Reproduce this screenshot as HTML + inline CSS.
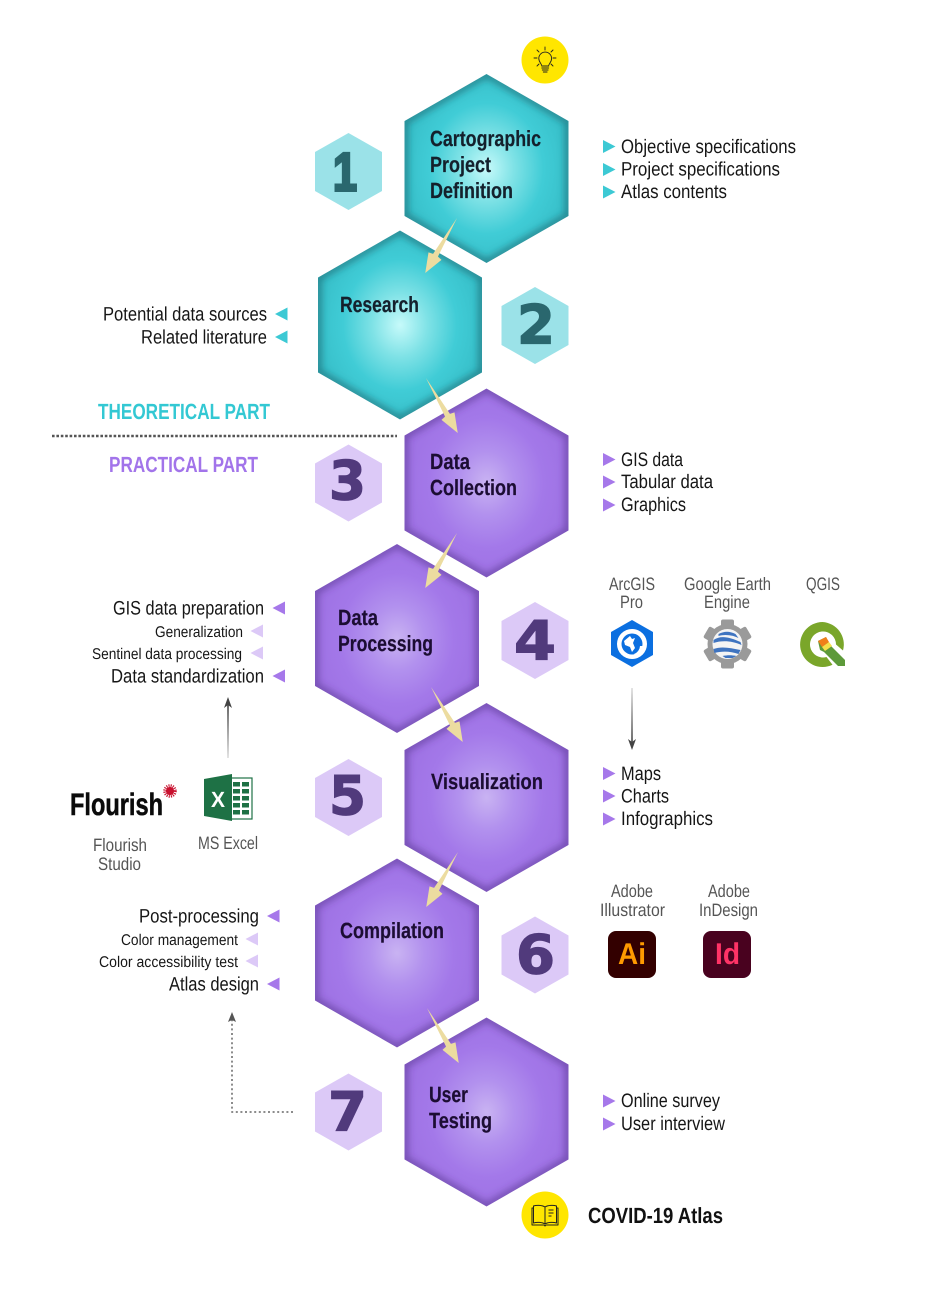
<!DOCTYPE html>
<html lang="en">
<head>
<meta charset="utf-8">
<title>Atlas workflow</title>
<style>
html,body{margin:0;padding:0;background:#fff;width:931px;height:1316px;overflow:hidden}
svg{display:block}
text{font-family:"Liberation Sans Narrow","Liberation Sans",sans-serif;text-rendering:geometricPrecision}
.t{font-weight:700;font-size:22px;fill:#14202c;stroke:#14202c;stroke-width:.2}
.tp{font-weight:700;font-size:22px;fill:#1c0d33;stroke:#1c0d33;stroke-width:.2}
.l{font-size:19.5px;fill:#161616}
.s{font-size:15.5px;fill:#161616}
.g{font-size:18px;fill:#555}
.d{font-family:"DejaVu Sans",sans-serif;font-weight:700;font-size:54px;stroke-width:1.3;stroke-linejoin:miter}
.d1{fill:#2a676e;stroke:#2a676e}
.d2{fill:#513a7c;stroke:#513a7c}
</style>
</head>
<body>
<svg xmlns="http://www.w3.org/2000/svg" width="931" height="1316" viewBox="0 0 931 1316">
<defs>
<radialGradient id="tg" cx=".5" cy=".5" r=".56">
<stop offset="0" stop-color="#c6fafa"/><stop offset=".3" stop-color="#7fe2e6"/><stop offset=".62" stop-color="#40ccd6"/><stop offset="1" stop-color="#35bcc6"/>
</radialGradient>
<radialGradient id="pg" cx=".5" cy=".5" r=".56">
<stop offset="0" stop-color="#c9b3f2"/><stop offset=".3" stop-color="#b291ee"/><stop offset=".62" stop-color="#a378e9"/><stop offset="1" stop-color="#9d70e2"/>
</radialGradient>
<filter id="b" x="-20%" y="-20%" width="140%" height="140%"><feGaussianBlur stdDeviation="4"/></filter>
<polygon id="hx" points="0,-94.500 82,-47.500 82,47.500 0,94.500 -82,47.500 -82,-47.500"/>
<polygon id="sh" points="0,-38.500 33.500,-19.500 33.500,19.500 0,38.500 -33.500,19.500 -33.500,-19.500"/>
<clipPath id="hc"><use href="#hx"/></clipPath>
<polygon id="ar" points="0,0 43,2.800 44,7.500 63.500,0 44,-7.500 43,-2.800" fill="#ecdca0"/>
<polygon id="tr" points="0,-6.500 12.500,0 0,6.500"/>
<polygon id="tl" points="0,-6.500 -12.500,0 0,6.500"/>
<linearGradient id="fd" x1="0" y1="0" x2="0" y2="1"><stop offset="0" stop-color="#ddd"/><stop offset="1" stop-color="#444"/></linearGradient>
<linearGradient id="fu" x1="0" y1="1" x2="0" y2="0"><stop offset="0" stop-color="#ddd"/><stop offset="1" stop-color="#444"/></linearGradient>
<g id="ht"><g clip-path="url(#hc)"><use href="#hx" fill="url(#tg)"/><use href="#hx" fill="none" stroke="#1f6d76" stroke-width="6" stroke-opacity=".85" filter="url(#b)"/></g></g>
<g id="hp"><g clip-path="url(#hc)"><use href="#hx" fill="url(#pg)"/><use href="#hx" fill="none" stroke="#55348f" stroke-width="6" stroke-opacity=".75" filter="url(#b)"/></g></g>
</defs>

<!-- Large hexagons -->
<use href="#ht" x="486.500" y="168.500"/>
<use href="#ht" x="400" y="325"/>
<use href="#hp" x="486.500" y="483"/>
<use href="#hp" x="397" y="638.500"/>
<use href="#hp" x="486.500" y="797.500"/>
<use href="#hp" x="397" y="953"/>
<use href="#hp" x="486.500" y="1112"/>

<!-- Small hexagons -->
<use href="#sh" x="348.500" y="171.500" fill="#9be2e8"/>
<use href="#sh" x="535" y="325.500" fill="#9be2e8"/>
<use href="#sh" x="348.500" y="483" fill="#dcc9f7"/>
<use href="#sh" x="535" y="640.500" fill="#dcc9f7"/>
<use href="#sh" x="348.500" y="797.500" fill="#dcc9f7"/>
<use href="#sh" x="535" y="955" fill="#dcc9f7"/>
<use href="#sh" x="348.500" y="1112" fill="#dcc9f7"/>

<text class="d d1" x="333" y="190.500" textLength="24" lengthAdjust="spacingAndGlyphs" style="font-family:'Liberation Sans',sans-serif;stroke-width:3">1</text>
<text class="d d1" x="517" y="343.500" textLength="38" lengthAdjust="spacingAndGlyphs">2</text>
<text class="d d2" x="329" y="499.500" textLength="37" lengthAdjust="spacingAndGlyphs">3</text>
<text class="d d2" x="514" y="659.500" textLength="42" lengthAdjust="spacingAndGlyphs">4</text>
<text class="d d2" x="329" y="814.500" textLength="37" lengthAdjust="spacingAndGlyphs">5</text>
<text class="d d2" x="516" y="973.500" textLength="39" lengthAdjust="spacingAndGlyphs">6</text>
<text class="d d2" x="328" y="1130.500" textLength="39" lengthAdjust="spacingAndGlyphs">7</text>

<!-- Hexagon titles -->
<text class="t" x="430" y="146" textLength="111" lengthAdjust="spacingAndGlyphs">Cartographic</text>
<text class="t" x="430" y="172" textLength="61" lengthAdjust="spacingAndGlyphs">Project</text>
<text class="t" x="430" y="198" textLength="83" lengthAdjust="spacingAndGlyphs">Definition</text>
<text class="t" x="340" y="312" textLength="79" lengthAdjust="spacingAndGlyphs">Research</text>
<text class="tp" x="430" y="469" textLength="40" lengthAdjust="spacingAndGlyphs">Data</text>
<text class="tp" x="430" y="495" textLength="87" lengthAdjust="spacingAndGlyphs">Collection</text>
<text class="tp" x="338" y="625" textLength="40" lengthAdjust="spacingAndGlyphs">Data</text>
<text class="tp" x="338" y="651" textLength="95" lengthAdjust="spacingAndGlyphs">Processing</text>
<text class="tp" x="431" y="789" textLength="112" lengthAdjust="spacingAndGlyphs">Visualization</text>
<text class="tp" x="340" y="938" textLength="104" lengthAdjust="spacingAndGlyphs">Compilation</text>
<text class="tp" x="429" y="1102" textLength="39" lengthAdjust="spacingAndGlyphs">User</text>
<text class="tp" x="429" y="1128" textLength="63" lengthAdjust="spacingAndGlyphs">Testing</text>

<!-- Yellow arrows -->
<use href="#ar" transform="translate(457,218) rotate(120)"/>
<use href="#ar" transform="translate(426,378) rotate(60)"/>
<use href="#ar" transform="translate(457,533) rotate(120)"/>
<use href="#ar" transform="translate(431,687) rotate(60)"/>
<use href="#ar" transform="translate(458,852) rotate(120)"/>
<use href="#ar" transform="translate(427,1008) rotate(60)"/>

<!-- Right lists -->
<g fill="#3cc9d4">
<use href="#tr" x="603" y="146.500"/><use href="#tr" x="603" y="169.500"/><use href="#tr" x="603" y="192"/>
</g>
<text class="l" x="621" y="153" textLength="175" lengthAdjust="spacingAndGlyphs">Objective specifications</text>
<text class="l" x="621" y="175.500" textLength="159" lengthAdjust="spacingAndGlyphs">Project specifications</text>
<text class="l" x="621" y="198" textLength="106" lengthAdjust="spacingAndGlyphs">Atlas contents</text>

<g fill="#a678ea">
<use href="#tr" x="603" y="459.500"/><use href="#tr" x="603" y="482"/><use href="#tr" x="603" y="505"/>
<use href="#tr" x="603" y="773.500"/><use href="#tr" x="603" y="796"/><use href="#tr" x="603" y="819"/>
<use href="#tr" x="603" y="1101"/><use href="#tr" x="603" y="1124"/>
</g>
<text class="l" x="621" y="466" textLength="62" lengthAdjust="spacingAndGlyphs">GIS data</text>
<text class="l" x="621" y="488" textLength="92" lengthAdjust="spacingAndGlyphs">Tabular data</text>
<text class="l" x="621" y="511" textLength="65" lengthAdjust="spacingAndGlyphs">Graphics</text>
<text class="l" x="621" y="780" textLength="40" lengthAdjust="spacingAndGlyphs">Maps</text>
<text class="l" x="621" y="802.500" textLength="48" lengthAdjust="spacingAndGlyphs">Charts</text>
<text class="l" x="621" y="825" textLength="92" lengthAdjust="spacingAndGlyphs">Infographics</text>
<text class="l" x="621" y="1107" textLength="99" lengthAdjust="spacingAndGlyphs">Online survey</text>
<text class="l" x="621" y="1130" textLength="104" lengthAdjust="spacingAndGlyphs">User interview</text>

<!-- Left lists -->
<text class="l" x="103" y="320.500" textLength="164" lengthAdjust="spacingAndGlyphs">Potential data sources</text>
<text class="l" x="141" y="343.500" textLength="126" lengthAdjust="spacingAndGlyphs">Related literature</text>
<g fill="#3cc9d4"><use href="#tl" x="287.500" y="314"/><use href="#tl" x="287.500" y="337"/></g>

<text x="98" y="419" textLength="172" lengthAdjust="spacingAndGlyphs" font-size="22" font-weight="700" fill="#33c8d3">THEORETICAL PART</text>
<line x1="52" y1="436" x2="397" y2="436" stroke="#555" stroke-width="2.600" stroke-dasharray="2.600 1.800"/>
<text x="109" y="472" textLength="149" lengthAdjust="spacingAndGlyphs" font-size="22" font-weight="700" fill="#a274ea">PRACTICAL PART</text>

<text class="l" x="113" y="614.500" textLength="151" lengthAdjust="spacingAndGlyphs">GIS data preparation</text>
<text class="s" x="155" y="637" textLength="88" lengthAdjust="spacingAndGlyphs">Generalization</text>
<text class="s" x="92" y="659" textLength="150" lengthAdjust="spacingAndGlyphs">Sentinel data processing</text>
<text class="l" x="111" y="682.500" textLength="153" lengthAdjust="spacingAndGlyphs">Data standardization</text>
<g fill="#a678ea"><use href="#tl" x="285" y="608"/><use href="#tl" x="285" y="676"/></g>
<g fill="#dcc9f7"><use href="#tl" x="263" y="631"/><use href="#tl" x="263" y="653"/></g>

<text class="l" x="139" y="922.500" textLength="120" lengthAdjust="spacingAndGlyphs">Post-processing</text>
<text class="s" x="121" y="945" textLength="117" lengthAdjust="spacingAndGlyphs">Color management</text>
<text class="s" x="99" y="967" textLength="139" lengthAdjust="spacingAndGlyphs">Color accessibility test</text>
<text class="l" x="169" y="990.500" textLength="90" lengthAdjust="spacingAndGlyphs">Atlas design</text>
<g fill="#a678ea"><use href="#tl" x="279.500" y="916"/><use href="#tl" x="279.500" y="984"/></g>
<g fill="#dcc9f7"><use href="#tl" x="258" y="939"/><use href="#tl" x="258" y="961"/></g>

<!-- Grey labels -->
<text class="g" x="609" y="590" textLength="46" lengthAdjust="spacingAndGlyphs">ArcGIS</text>
<text class="g" x="620" y="608" textLength="23" lengthAdjust="spacingAndGlyphs">Pro</text>
<text class="g" x="684" y="590" textLength="87" lengthAdjust="spacingAndGlyphs">Google Earth</text>
<text class="g" x="704" y="608" textLength="46" lengthAdjust="spacingAndGlyphs">Engine</text>
<text class="g" x="806" y="590" textLength="34" lengthAdjust="spacingAndGlyphs">QGIS</text>
<text class="g" x="611" y="897" textLength="42" lengthAdjust="spacingAndGlyphs">Adobe</text>
<text class="g" x="600" y="916" textLength="65" lengthAdjust="spacingAndGlyphs">Illustrator</text>
<text class="g" x="708" y="897" textLength="42" lengthAdjust="spacingAndGlyphs">Adobe</text>
<text class="g" x="699" y="916" textLength="59" lengthAdjust="spacingAndGlyphs">InDesign</text>
<text class="g" x="93" y="851" textLength="54" lengthAdjust="spacingAndGlyphs">Flourish</text>
<text class="g" x="98" y="870" textLength="43" lengthAdjust="spacingAndGlyphs">Studio</text>
<text class="g" x="198" y="849" textLength="60" lengthAdjust="spacingAndGlyphs">MS Excel</text>

<!-- Grey arrows -->
<rect x="631.200" y="688" width="1.600" height="55" fill="url(#fd)"/>
<polygon points="628,739 632,742 636,739 632,750" fill="#444"/>
<rect x="227.200" y="705" width="1.600" height="53" fill="url(#fu)"/>
<polygon points="224,708 228,705 232,708 228,697" fill="#444"/>
<path d="M293 1112 H232 V1020" fill="none" stroke="#666" stroke-width="1.500" stroke-dasharray="2 2.600"/>
<polygon points="228,1022 232,1012 236,1022 232,1020" fill="#555"/>

<!-- Yellow circles -->
<circle cx="545" cy="60" r="23.500" fill="#ffe600"/>
<g fill="none" stroke="#222" stroke-width=".9" stroke-linecap="round">
<path d="M541.800 66c0-2.400-3-3.600-3-7.500a6.400 6.400 0 0 1 12.800 0c0 3.900-3 5.100-3 7.500z"/>
<path d="M541.800 68h6.800M542.300 70h5.800M543.300 72h3.800"/>
<path d="M545 47v3M534 58h3M553 58h3M537 50l2 2M553 50l-2 2M537 66l2-2M553 66l-2-2"/>
</g>
<circle cx="545" cy="1215" r="23.500" fill="#ffe600"/>
<g fill="none" stroke="#222" stroke-width="1" stroke-linejoin="round">
<path d="M545 1207c-3-2-9-2-11.500-1v17c3-1 8.500-1 11.500 1 3-2 8.500-2 11.500-1v-17c-2.500-1-8.500-1-11.500 1z"/>
<path d="M545 1207v17M533.500 1208h-1.500v17h12l1 1 1-1h12v-17h-1.500"/>
<path d="M548.500 1210h5M548.500 1213h5M548.500 1216h3"/>
</g>
<text x="588" y="1223" textLength="135" lengthAdjust="spacingAndGlyphs" font-size="22" font-weight="700" fill="#111">COVID-19 Atlas</text>

<!-- ArcGIS icon -->
<polygon points="632,620 653,632 653,655 632,667 611,655 611,632" fill="#0b6fe0"/>
<circle cx="632" cy="644" r="15" fill="#fff"/>
<circle cx="632" cy="644" r="10.500" fill="#0b6fe0"/>
<path d="M624 641l6-5 2 3 3-1-2 5 2 5-3 4-2-5-5-2z" fill="#fff"/>
<path d="M640 646a9 9 0 0 1-6 8l2 2a12 12 0 0 0 7-10z" fill="#fff"/>

<!-- Earth Engine icon -->
<g transform="translate(727.500,644)">
<g fill="#9a9a9a">
<rect x="-6.500" y="-24.500" width="13" height="49" rx="2"/>
<rect x="-6.500" y="-24.500" width="13" height="49" rx="2" transform="rotate(60)"/>
<rect x="-6.500" y="-24.500" width="13" height="49" rx="2" transform="rotate(120)"/>
<circle r="20"/>
</g>
<circle r="15" fill="#f4f4f4"/>
<path d="M-14 -4c7 -5 16 -3 27 2l1 3c-9 -4 -19 -5 -28 -2zM-14 5c8 -3 17 -1 27 1l-2 4c-8 -3 -17 -3 -24 -1zM-5 12c5 -1 9 -1 14 0l-4 2h-7zM-9 -10c6 -3 11 -3 17 0l3 4c-6 -3 -14 -4 -20 -2z" fill="#3f74c0"/>
</g>

<!-- QGIS icon -->
<path d="M822.500 622a22.500 22.500 0 1 0 10 42.700l-6-7.700a13 13 0 1 1 9.500-12.500l7 6a22.500 22.500 0 0 0-20.500-28.500z" fill="#7aa62a"/>
<polygon points="818,641 826,637 830,645 845,660 845,666 838,666 824,652 820,650" fill="#5d9a3a"/>
<polygon points="818,641 826,637 829,642 822,647" fill="#ef7f1a"/>
<polygon points="822,647 829,642 832,646 825,651" fill="#f5e04a"/>

<!-- Flourish logo -->
<text x="70" y="815" font-size="31" font-weight="700" fill="#0b0b0b" stroke="#0b0b0b" stroke-width=".5" textLength="93" lengthAdjust="spacingAndGlyphs" style="font-family:'Liberation Sans',sans-serif">Flourish</text>
<circle cx="170" cy="791" r="4" fill="#c8102e"/>
<circle cx="170" cy="791" r="5" fill="none" stroke="#c8102e" stroke-width="3.500" stroke-dasharray="1 1"/>

<!-- Excel icon -->
<rect x="228" y="778" width="24" height="41" fill="#fff" stroke="#1e7145" stroke-width="1.200"/>
<g fill="#1e7145">
<rect x="233" y="782" width="7" height="4.500"/><rect x="242" y="782" width="7" height="4.500"/>
<rect x="233" y="789" width="7" height="4.500"/><rect x="242" y="789" width="7" height="4.500"/>
<rect x="233" y="796" width="7" height="4.500"/><rect x="242" y="796" width="7" height="4.500"/>
<rect x="233" y="803" width="7" height="4.500"/><rect x="242" y="803" width="7" height="4.500"/>
<rect x="233" y="810" width="7" height="4.500"/><rect x="242" y="810" width="7" height="4.500"/>
</g>
<polygon points="204,779 232,774 232,821 204,816" fill="#1e7145"/>
<text x="211" y="807" font-size="22" font-weight="700" fill="#fff" textLength="14" lengthAdjust="spacingAndGlyphs" style="font-family:'Liberation Sans',sans-serif">X</text>

<!-- Adobe icons -->
<rect x="608" y="931" width="48" height="47" rx="8" fill="#330000"/>
<text x="618" y="964" font-size="30" font-weight="700" fill="#ff9a00" textLength="28" lengthAdjust="spacingAndGlyphs" style="font-family:'Liberation Sans',sans-serif">Ai</text>
<rect x="703" y="931" width="48" height="47" rx="8" fill="#49021f"/>
<text x="715" y="964" font-size="30" font-weight="700" fill="#ff3366" textLength="25" lengthAdjust="spacingAndGlyphs" style="font-family:'Liberation Sans',sans-serif">Id</text>
</svg>
</body>
</html>
